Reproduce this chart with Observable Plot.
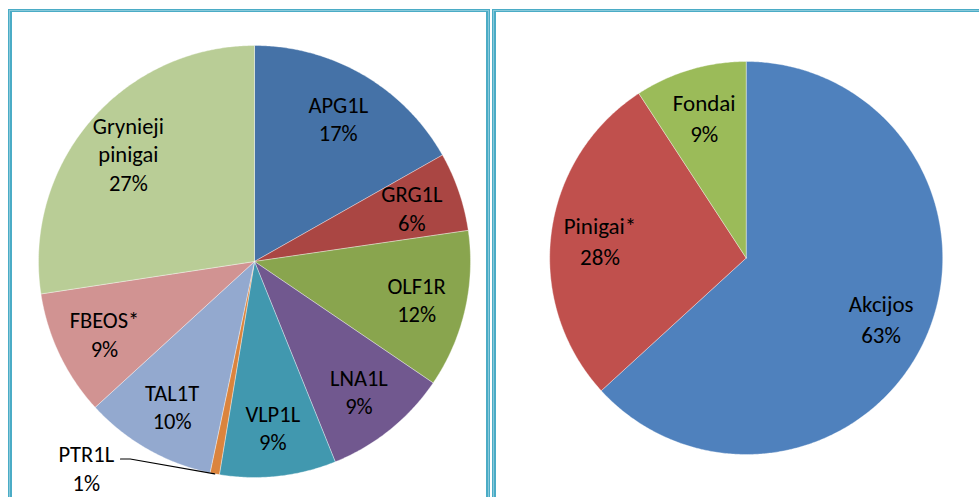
<!DOCTYPE html>
<html>
<head>
<meta charset="utf-8">
<script src="https://cdn.jsdelivr.net/npm/d3@7"></script>
<script src="https://cdn.jsdelivr.net/npm/@observablehq/plot@0.6"></script>
<style>
  html, body { margin: 0; padding: 0; background: #fff; }
  #wrap { position: relative; width: 979px; height: 497px; overflow: hidden; background: #fff; }
  .chart { position: absolute; top: 0; }
  #cl { left: 0; }
  #cr { left: 490px; }
  .panel { position: absolute; box-sizing: border-box; border: 4px solid #4BACC6; border-top-width: 3px; z-index: 5; }
  .panel::before { content: ""; position: absolute; left: -3px; top: -2px; right: -3px; bottom: -3px; border: 1px solid rgba(255,255,255,0.35); }
  #pl { left: 8px; top: 9px; width: 482px; height: 540px; }
  #pr { left: 492px; top: 9px; width: 540px; height: 540px; }
</style>
</head>
<body>
<div id="wrap">
  <div id="cl" class="chart"></div>
  <div id="cr" class="chart"></div>
  <div id="pl" class="panel"></div>
  <div id="pr" class="panel"></div>
</div>
<script>
// ---- Data: left pie (portfolio holdings) ----
const leftNames  = ["APG1L", "GRG1L", "OLF1R", "LNA1L", "VLP1L", "PTR1L", "TAL1T", "FBEOS*", "Grynieji pinigai"];
const leftValues = [16.8, 5.9, 11.8, 9.4, 8.7, 0.7, 9.9, 9.4, 27.4];
const leftColors = ["#4572A7", "#AA4643", "#89A54E", "#71588F", "#4198AF", "#DB843D", "#93A9CF", "#D19392", "#B9CD96"];

// ---- Data: right pie (asset classes) ----
const rightNames  = ["Akcijos", "Pinigai*", "Fondai"];
const rightValues = [63.2, 27.6, 9.2];
const rightColors = ["#4F81BD", "#C0504D", "#9BBB59"];

const FONT = "Carlito, Calibri, Lato, 'Open Sans', sans-serif";

function buildPie(names, values) {
  const total = d3.sum(values);
  const pts = [];
  const slices = [];
  let acc = 0;
  names.forEach((name, i) => {
    const a0 = acc / total * 2 * Math.PI;
    acc += values[i];
    const a1 = acc / total * 2 * Math.PI;
    const pct = Math.round(values[i] / total * 100) + "%";
    slices.push({name, value: values[i], a0, a1, mid: (a0 + a1) / 2, pct});
    const n = Math.max(2, Math.ceil((a1 - a0) / (Math.PI / 360)));
    pts.push({name, x: 0, y: 0});
    for (let k = 0; k <= n; k++) {
      const a = a0 + (a1 - a0) * k / n;
      pts.push({name, x: Math.sin(a), y: Math.cos(a)});
    }
    pts.push({name, x: 0, y: 0});
  });
  return {pts, slices};
}

function labelText(d) {
  return d.name.replace(" ", "\n") + "\n" + d.pct;
}

function pieChart({names, values, colors, width, height, margins, labelR, fontSize, lineHeight}) {
  const {pts, slices} = buildPie(names, values);
  const total = d3.sum(values);
  const inside = slices.filter(d => d.value / total >= 0.02);
  const outside = slices.filter(d => d.value / total < 0.02);
  // callout layout for tiny slices
  const shift = 0.5, calloutR = 1.23;
  const callouts = outside.map(d => {
    const lx = calloutR * Math.sin(d.mid + shift), ly = calloutR * Math.cos(d.mid + shift);
    return {...d, lx, ly};
  });
  const leaders = [];
  callouts.forEach(d => {
    const ex = d.lx + 0.158, ey = d.ly + 0.038;
    leaders.push({name: d.name, x: ex, y: ey});
    leaders.push({name: d.name, x: ex + 0.045, y: ey});
    leaders.push({name: d.name, x: Math.sin(d.mid), y: Math.cos(d.mid)});
  });
  return Plot.plot({
    width, height,
    marginLeft: margins[0], marginRight: margins[1], marginTop: margins[2], marginBottom: margins[3],
    x: {domain: [-1, 1], axis: null},
    y: {domain: [-1, 1], axis: null},
    color: {domain: names, range: colors},
    style: {fontFamily: FONT, background: "transparent", overflow: "visible"},
    marks: [
      Plot.line(pts, {x: "x", y: "y", z: "name", fill: "name", stroke: "white", strokeWidth: 0.8, strokeOpacity: 0.45}),
      Plot.text(inside, {
        x: d => labelR * Math.sin(d.mid),
        y: d => labelR * Math.cos(d.mid),
        text: labelText, fontSize, lineHeight, fill: "#000", textAnchor: "middle", lineAnchor: "middle"
      }),
      Plot.line(leaders, {x: "x", y: "y", z: "name", stroke: "#000", strokeWidth: 1.2, fill: "none"}),
      Plot.text(callouts, {
        x: "lx", y: "ly", text: labelText, fontSize, lineHeight, fill: "#000", textAnchor: "middle", lineAnchor: "middle"
      })
    ]
  });
}

document.getElementById("cl").appendChild(pieChart({
  names: leftNames, values: leftValues, colors: leftColors,
  width: 486, height: 497, margins: [38, 16, 45, 20],
  labelR: 0.77, fontSize: 22.5, lineHeight: 1.27
}));

document.getElementById("cr").appendChild(pieChart({
  names: rightNames, values: rightValues, colors: rightColors,
  width: 489, height: 497, margins: [59.2, 36.8, 61, 43],
  labelR: 0.75, fontSize: 23, lineHeight: 1.35
}));
</script>
</body>
</html>
